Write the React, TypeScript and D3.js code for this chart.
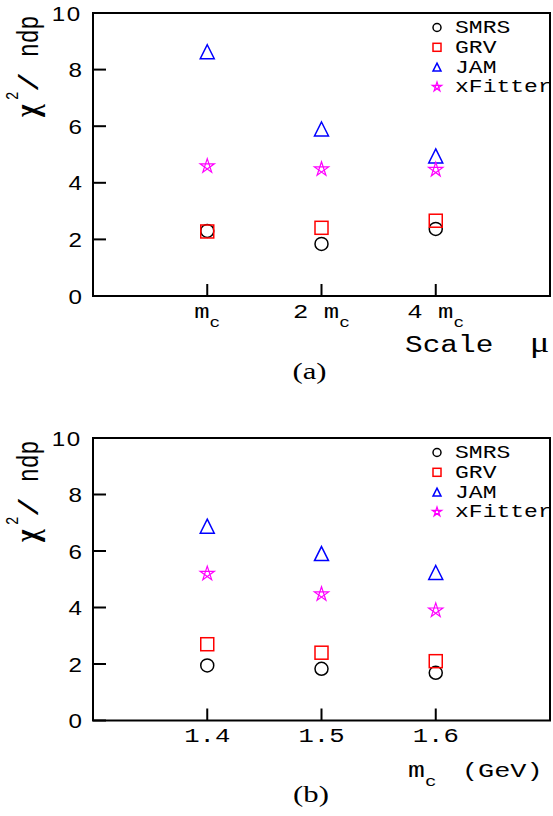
import React from "react";
import * as d3 from "d3";

const yTicks = [0, 2, 4, 6, 8, 10];

// Panel (a): scale mu
const scaleCats = [1, 2, 3];
const scaleLabels = [
  { pre: "", main: "m", sub: "c" },
  { pre: "2 ", main: "m", sub: "c" },
  { pre: "4 ", main: "m", sub: "c" },
];
const smrsA = [2.3, 1.84, 2.37];
const grvA = [2.28, 2.41, 2.66];
const jamA = [8.63, 5.9, 4.95];
const xfA = [4.59, 4.48, 4.46];

// Panel (b): charm mass
const mcVals = [1.4, 1.5, 1.6];
const mcLabels = ["1.4", "1.5", "1.6"];
const smrsB = [1.95, 1.83, 1.69];
const grvB = [2.7, 2.4, 2.1];
const jamB = [6.88, 5.91, 5.24];
const xfB = [5.2, 4.47, 3.9];

const legendNames = ["SMRS", "GRV", "JAM", "xFitter"];
const colors = ["#000000", "#ff0000", "#0000ff", "#ff00ff"];

const MONO = "'Liberation Mono', 'DejaVu Sans Mono', monospace";
const SANS = "'Liberation Sans', Arial, sans-serif";
const SERIF = "'Liberation Serif', 'Times New Roman', serif";
const SX = 1.28;

function T({ x, y, children, sx = SX, ...rest }: any) {
  return (
    <g transform={`translate(${x},${y}) scale(${sx},1)`}>
      <text x={0} y={0} {...rest}>
        {children}
      </text>
    </g>
  );
}

function Marker({ kind, x, y, s, color }: { kind: number; x: number; y: number; s: number; color: string }) {
  const sw = 1.5;
  if (kind === 0) {
    return <circle cx={x} cy={y} r={s / 2} fill="none" stroke={color} strokeWidth={sw} />;
  }
  if (kind === 1) {
    return <rect x={x - s / 2} y={y - s / 2} width={s} height={s} fill="none" stroke={color} strokeWidth={sw} />;
  }
  if (kind === 2) {
    const p = `M${x},${y - s / 2} L${x + s / 2},${y + s / 2} L${x - s / 2},${y + s / 2} Z`;
    return <path d={p} fill="none" stroke={color} strokeWidth={sw} />;
  }
  const R = s / 2;
  const pts = d3.range(5).map((i) => {
    const a = ((-90 + 72 * i) * Math.PI) / 180;
    return [x + R * Math.cos(a), y + R * Math.sin(a)];
  });
  const order = [0, 2, 4, 1, 3];
  const d = "M" + order.map((i) => `${pts[i][0]},${pts[i][1]}`).join(" L") + " Z";
  return <path d={d} fill="none" stroke={color} strokeWidth={1.2} strokeLinejoin="miter" />;
}

function Panel({
  top,
  bottom,
  xDomain,
  xTickVals,
  renderXLabel,
  series,
}: {
  top: number;
  bottom: number;
  xDomain: [number, number];
  xTickVals: number[];
  renderXLabel: (i: number, x: number, y: number) => React.ReactNode;
  series: number[][];
}) {
  const left = 93;
  const right = 550;
  const x = d3.scaleLinear().domain(xDomain).range([left, right]);
  const y = d3.scaleLinear().domain([0, 10]).range([bottom, top]);
  const tl = 13;
  const Y0 = top - 13;
  return (
    <g>
      {yTicks.map((t) => (
        <g key={"y" + t}>
          <line x1={left} x2={left + tl} y1={y(t)} y2={y(t)} stroke="#000" strokeWidth={2} />
          <T x={82} y={y(t)} sx={1.15} dy="0.36em" textAnchor="end" fontFamily={SANS} fontSize={21} letterSpacing={t === 10 ? 1.5 : 0}>
            {t}
          </T>
        </g>
      ))}
      {xTickVals.map((v, i) => (
        <g key={"x" + i}>
          <line x1={x(v)} x2={x(v)} y1={bottom} y2={bottom - 12} stroke="#000" strokeWidth={2} />
          {renderXLabel(i, x(v), bottom + 21.5)}
        </g>
      ))}
      <rect x={left} y={top} width={right - left} height={bottom - top} fill="none" stroke="#000" strokeWidth={2} />
      {series.map((vals, k) =>
        vals.map((v, i) => (
          <Marker key={k + "-" + i} kind={k} x={x(xTickVals[i])} y={y(v)} s={k === 3 ? 15 : k === 2 ? 14 : 13} color={colors[k]} />
        ))
      )}
      {legendNames.map((n, k) => {
        const by = top + 20 + 19.8 * k;
        return (
          <g key={"l" + k}>
            <Marker kind={k} x={437} y={by - 5.5} s={k === 3 ? 10 : 8} color={colors[k]} />
            <T x={455} y={by} fontFamily={MONO} fontSize={18}>
              {n}
            </T>
          </g>
        );
      })}
      <g transform={`translate(38, ${Y0}) scale(${SX},1) rotate(-90)`}>
        <text x={-117} y={0} fontFamily={SERIF} fontWeight="bold" fontSize={27}>χ</text>
        <text x={-100} y={-15.5} fontFamily={MONO} fontSize={14}>2</text>
        <g transform="translate(-92,0) scale(1.6,1)">
          <text x={0} y={0} fontFamily={MONO} fontSize={21}>/</text>
        </g>
        <text x={-57} y={0} fontFamily={MONO} fontSize={23}>ndp</text>
      </g>
    </g>
  );
}

export default function App() {
  return (
    <svg width={553} height={816} style={{ display: "block", position: "absolute", left: 0, top: 0 }}>
      <rect width={553} height={816} fill="#fff" />
      <Panel
        top={13}
        bottom={296}
        xDomain={[0, 4]}
        xTickVals={scaleCats}
        series={[smrsA, grvA, jamA, xfA]}
        renderXLabel={(i, px, py) => (
          <T x={px} y={py} textAnchor="middle" fontFamily={MONO} fontSize={20}>
            {scaleLabels[i].pre}
            {scaleLabels[i].main}
            <tspan fontSize={14} dy={9}>{scaleLabels[i].sub}</tspan>
          </T>
        )}
      />
      <T x={405} y={352} fontFamily={MONO} fontSize={23}>Scale</T>
      <T x={530} y={352} fontFamily={SERIF} fontSize={30} sx={1.2}>μ</T>
      <T x={309.5} y={379} textAnchor="middle" fontFamily={SERIF} fontSize={24}>(a)</T>

      <Panel
        top={438}
        bottom={720.5}
        xDomain={[1.3, 1.7]}
        xTickVals={mcVals}
        series={[smrsB, grvB, jamB, xfB]}
        renderXLabel={(i, px, py) => (
          <T x={px} y={py} textAnchor="middle" fontFamily={MONO} fontSize={20}>
            {mcLabels[i]}
          </T>
        )}
      />
      <T x={408} y={777} fontFamily={MONO} fontSize={22}>
        m<tspan fontSize={15} dy={9}>c</tspan>
      </T>
      <T x={462} y={777} fontFamily={MONO} fontSize={21}>(GeV)</T>
      <T x={311} y={802} textAnchor="middle" fontFamily={SERIF} fontSize={24}>(b)</T>
    </svg>
  );
}
